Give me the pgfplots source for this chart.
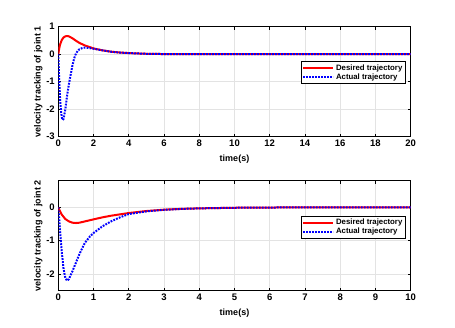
\documentclass[border=0pt]{standalone}
\usepackage{fontspec}
\setmainfont{Liberation Sans}
\usepackage{pgfplots}
\pgfplotsset{compat=1.18}

\pgfplotsset{
  matfig/.style={
    scale only axis, width=352.4pt, height=110pt,
    anchor=south west,
    axis line style={black, line width=0.9pt},
    tick style={black, line width=0.8pt}, tick align=inside,
    major tick length=3pt,
    xtick pos=both, ytick pos=both,
    grid=major, grid style={gray!22, line width=0.8pt},
    font=\bfseries\fontsize{9}{10}\selectfont,
    tick label style={font=\bfseries\fontsize{9.5}{10}\selectfont},
    /pgf/number format/assume math mode=true,
    xlabel={time(s)},
    xlabel style={yshift=-1.5pt},
    ylabel style={yshift=-3pt},
    legend cell align=left,
    legend style={draw=black, line width=0.8pt, font=\bfseries\fontsize{7.8}{8}\selectfont,
      inner sep=1pt, row sep=-2pt, anchor=north east},
    legend image code/.code={\draw[##1] (0pt,0pt) -- (30pt,0pt);},
  },
  des/.style={red, line width=2pt},
  act/.style={blue, line width=2pt, line cap=butt, dash pattern=on 1.8pt off 1.2pt},
}

\begin{document}
\begin{tikzpicture}
\path[use as bounding box] (0,0) rectangle (455pt,328pt);

\begin{axis}[matfig, at={(58.3pt,191.3pt)},
  xmin=0, xmax=20, ymin=-3, ymax=1,
  xtick={0,2,...,20}, ytick={-3,-2,-1,0,1},
  yticklabels={-3,-2,-1,0,1},
  ylabel={velocity tracking of joint 1},
  legend style={at={(0.986,0.688)}},
]
\addplot[des] coordinates {
(0,0) (0.05,0.2) (0.1,0.35) (0.2,0.52) (0.3,0.61) (0.4,0.65) (0.5,0.66) (0.6,0.65)
(0.8,0.58) (1.0,0.49) (1.2,0.41) (1.5,0.32) (2,0.21) (2.5,0.14) (3,0.09) (3.5,0.06)
(4,0.04) (5,0.015) (6,0.005) (8,0) (20,0)};
\addplot[act] coordinates {
(0,0) (0.05,-0.9) (0.1,-1.6) (0.15,-2.05) (0.2,-2.3) (0.25,-2.39) (0.3,-2.35)
(0.4,-2.0) (0.5,-1.5) (0.6,-1.1) (0.7,-0.75) (0.8,-0.42) (0.9,-0.15) (1.0,0.02)
(1.1,0.12) (1.2,0.18) (1.35,0.22) (1.5,0.24) (1.7,0.23) (2,0.2) (2.5,0.14) (3,0.09)
(3.5,0.06) (4,0.04) (5,0.015) (6,0.005) (8,0) (20,0)};
\legend{Desired trajectory, Actual trajectory}
\end{axis}

\begin{axis}[matfig, at={(58.3pt,37.3pt)},
  xmin=0, xmax=10, ymin=-2.5, ymax=0.8,
  xtick={0,1,...,10}, ytick={-2,-1,0},
  yticklabels={-2,-1,0},
  ylabel={velocity tracking of joint 2},
  legend style={at={(0.986,0.682)}},
]
\addplot[des] coordinates {
(0,0) (0.05,-0.12) (0.1,-0.22) (0.2,-0.35) (0.3,-0.42) (0.4,-0.46) (0.5,-0.47)
(0.6,-0.46) (0.8,-0.41) (1.0,-0.36) (1.25,-0.3) (1.5,-0.25) (2,-0.17) (2.5,-0.11)
(3,-0.07) (3.5,-0.045) (4,-0.03) (5,-0.012) (6,-0.005) (7,0) (10,0)};
\addplot[act] coordinates {
(0,0) (0.05,-0.7) (0.1,-1.35) (0.15,-1.85) (0.2,-2.12) (0.25,-2.2) (0.3,-2.15)
(0.4,-1.92) (0.5,-1.66) (0.6,-1.4) (0.75,-1.07) (0.9,-0.87) (1.0,-0.77) (1.25,-0.57)
(1.5,-0.42) (1.75,-0.3) (2,-0.2) (2.5,-0.12) (3,-0.075) (3.5,-0.047) (4,-0.03)
(5,-0.012) (6,-0.005) (7,0) (10,0)};
\legend{Desired trajectory, Actual trajectory}
\end{axis}
\end{tikzpicture}
\end{document}
